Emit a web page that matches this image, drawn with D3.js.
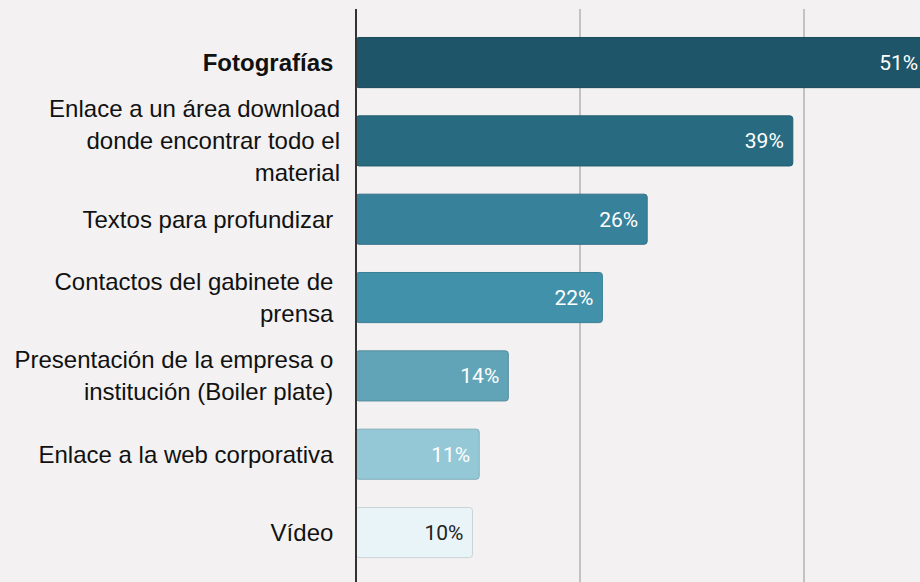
<!DOCTYPE html>
<html>
<head>
<meta charset="utf-8">
<script src="https://cdn.jsdelivr.net/npm/d3@7"></script>
<style>
  html, body { margin: 0; padding: 0; background: #f3f1f2; }
  svg { display: block; }
</style>
</head>
<body>
<svg width="920" height="582"></svg>
<script>
// categories (wrapped as in the original, trailing space kept)
var categories = [
  ["Fotografías "],
  ["Enlace a un área download", "donde encontrar todo el", "material"],
  ["Textos para profundizar "],
  ["Contactos del gabinete de ", "prensa "],
  ["Presentación de la empresa o ", "institución (Boiler plate) "],
  ["Enlace a la web corporativa "],
  ["Vídeo "]
];
var values = [51, 39, 26, 22, 13.6, 11, 10.4];
var barColors = ["#1f5568", "#286b81", "#38819b", "#4291ab", "#62a4b7", "#95c8d6", "#e9f4f9"];
var labelColors = ["#fff", "#fff", "#fff", "#fff", "#fff", "#fff", "#222"];
var gridTicks = [20, 40];

var svg = d3.select("svg"),
    width = +svg.attr("width"),
    height = +svg.attr("height");

var x = d3.scaleLinear()
    .domain([0, 40])
    .range([356, 804]);

var y = d3.scaleBand()
    .domain(d3.range(values.length))
    .range([23.4, 571.7])
    .paddingInner(0.36)
    .paddingOuter(0.18);

// grid lines
svg.append("g")
  .selectAll("line")
  .data(gridTicks)
  .enter().append("line")
    .attr("x1", function(d) { return x(d); })
    .attr("x2", function(d) { return x(d); })
    .attr("y1", 9)
    .attr("y2", height)
    .attr("stroke", "#c3c1c2")
    .attr("stroke-width", 2);

// bars
svg.append("g")
  .selectAll("rect")
  .data(values)
  .enter().append("rect")
    .attr("x", x(0))
    .attr("y", function(d, i) { return y(i); })
    .attr("width", function(d) { return x(d) - x(0); })
    .attr("height", y.bandwidth())
    .attr("rx", 3)
    .attr("fill", function(d, i) { return barColors[i]; })
    .attr("stroke", function(d, i) { return i == 6 ? "#c9d3d7" : d3.color(barColors[i]).darker(0.4); })
    .attr("stroke-width", 1);

// axis line
svg.append("line")
    .attr("x1", x(0))
    .attr("x2", x(0))
    .attr("y1", 9)
    .attr("y2", height)
    .attr("stroke", "#333")
    .attr("stroke-width", 2);

// value labels
svg.append("g")
  .selectAll("text")
  .data(values)
  .enter().append("text")
    .attr("x", function(d) { return x(d) - 9; })
    .attr("y", function(d, i) { return y(i) + y.bandwidth() / 2; })
    .attr("dy", "0.35em")
    .attr("text-anchor", "end")
    .attr("font-family", "Roboto, sans-serif")
    .attr("font-weight", 400)
    .attr("font-size", 21)
    .attr("fill", function(d, i) { return labelColors[i]; })
    .text(function(d) { return Math.round(d) + "%"; });

// category labels
var lineH = 32;
var cat = svg.append("g")
  .selectAll("text")
  .data(categories)
  .enter().append("text")
    .attr("text-anchor", "end")
    .attr("font-family", "'Liberation Sans', Arial, sans-serif")
    .attr("font-size", 24)
    .attr("font-weight", function(d, i) { return i == 0 ? "bold" : "normal"; })
    .attr("fill", "#111")
    .style("white-space", "pre");

cat.each(function(lines, i) {
  var t = d3.select(this);
  var cy = y(i) + y.bandwidth() / 2 - (lines.length - 1) * lineH / 2;
  lines.forEach(function(l, j) {
    t.append("tspan")
      .attr("x", 340)
      .attr("y", cy + j * lineH)
      .attr("dy", "0.35em")
      .text(l);
  });
});
</script>
</body>
</html>
